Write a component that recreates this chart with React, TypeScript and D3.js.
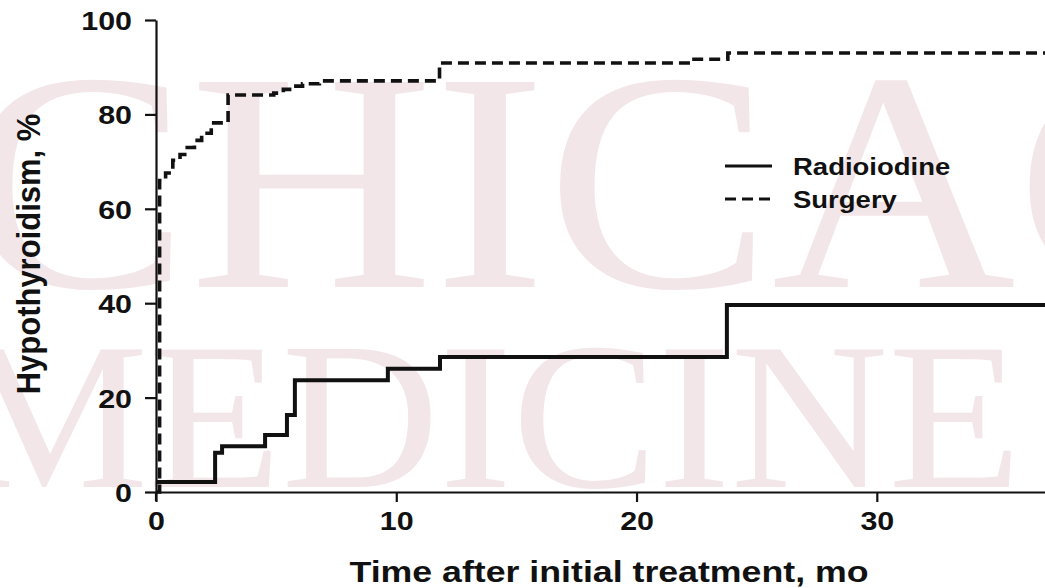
import { useEffect, useRef } from "react";
import * as d3 from "d3";

// Months after initial treatment / cumulative % hypothyroid
const radioTimes = [0, 2.46, 2.75, 4.54, 5.45, 5.78, 9.65, 11.82, 23.76, 37];
const radioPct = [2.1, 8.3, 9.7, 12.1, 16.3, 23.7, 26.1, 28.6, 39.6, 39.6];

const surgeryTimes = [0, 0.15, 0.4, 0.7, 1.0, 1.3, 1.6, 1.9, 2.3, 3.0, 4.9, 5.3, 5.7, 6.1, 6.8, 11.8, 22.3, 23.8, 37];
const surgeryPct = [0, 66, 67.6, 70.3, 71.5, 73, 74.5, 76, 78.2, 84.1, 84.5, 85.3, 86, 86.5, 87.1, 90.9, 91.7, 93.0, 93.0];

const xTicks = [0, 10, 20, 30];
const yTicks = [0, 20, 40, 60, 80, 100];

const legendLabels = ["Radioiodine", "Surgery"];

const W = 1045;
const H = 588;
const FONT = "'Liberation Sans', Arial, Helvetica, sans-serif";
const SX = 1.17; // the scan is a bit wider than tall, stretch text to match

export default function App() {
  const svgRef = useRef<SVGSVGElement>(null);

  useEffect(() => {
    if (!svgRef.current) return;
    const svg = d3.select(svgRef.current);
    svg.selectAll("*").remove();

    const x = d3.scaleLinear().domain([0, 37]).range([156, 1045]);
    const y = d3.scaleLinear().domain([0, 100]).range([492, 20]);

    // faint watermark behind the plot
    const wm = svg.append("g").attr("fill", "#f3e6e9").attr("font-family", "'Liberation Serif', 'Times New Roman', serif");
    wm.append("text").attr("transform", "translate(-36,287) scale(1.08,1)")
      .attr("font-size", 313).text("CHICAGO");
    wm.append("text").attr("transform", "translate(-46,487) scale(1.04,1)")
      .attr("font-size", 210).text("MEDICINE");

    // axes
    const xAxis = svg.append("g").attr("transform", `translate(0,${y(0)})`)
      .call(d3.axisBottom(x).tickValues(xTicks).tickSize(10).tickSizeOuter(0).tickFormat(d3.format("d")));
    xAxis.select(".domain").attr("stroke", "#111").attr("stroke-width", 2.2);
    xAxis.selectAll(".tick line").attr("stroke", "#111").attr("stroke-width", 2.2);
    xAxis.selectAll(".tick text")
      .attr("y", 0).attr("dy", 0)
      .attr("transform", `translate(0,38) scale(${SX},1)`)
      .attr("fill", "#111").attr("font-size", 26).attr("font-weight", 700).attr("font-family", FONT);

    const yAxis = svg.append("g").attr("transform", `translate(${x(0)},0)`)
      .call(d3.axisLeft(y).tickValues(yTicks).tickSize(11).tickSizeOuter(0).tickFormat(d3.format("d")));
    yAxis.select(".domain").attr("stroke", "#111").attr("stroke-width", 2.2);
    yAxis.selectAll(".tick line").attr("stroke", "#111").attr("stroke-width", 2.2);
    yAxis.selectAll(".tick text")
      .attr("x", 0).attr("dy", 0).attr("y", 0)
      .attr("transform", `translate(-24,9.5) scale(${SX},1)`)
      .attr("fill", "#111").attr("font-size", 26).attr("font-weight", 700).attr("font-family", FONT);

    // little stub of the y axis below the origin
    svg.append("line")
      .attr("x1", x(0)).attr("x2", x(0)).attr("y1", y(0)).attr("y2", y(0) + 9)
      .attr("stroke", "#111").attr("stroke-width", 2.2);

    // survival-style step curves
    const line = d3.line<[number, number]>()
      .x((d) => x(d[0])).y((d) => y(d[1]))
      .curve(d3.curveStepAfter);

    const radio = radioTimes.map((t, i) => [t, radioPct[i]] as [number, number]);
    const surg = surgeryTimes.map((t, i) => [t, surgeryPct[i]] as [number, number]);

    svg.append("path").datum(surg)
      .attr("d", line).attr("fill", "none")
      .attr("stroke", "#111").attr("stroke-width", 3.6)
      .attr("stroke-dasharray", "11,6");

    svg.append("path").datum(radio)
      .attr("d", line).attr("fill", "none")
      .attr("stroke", "#111").attr("stroke-width", 4);

    // legend
    const leg = svg.append("g");
    legendLabels.forEach((lab, i) => {
      const ly = 166 + i * 33;
      leg.append("line")
        .attr("x1", 725).attr("x2", 772).attr("y1", ly).attr("y2", ly)
        .attr("stroke", "#111").attr("stroke-width", 3)
        .attr("stroke-dasharray", i === 1 ? "11,6" : null);
      leg.append("text")
        .attr("transform", `translate(793,${ly + 9}) scale(${SX},1)`)
        .attr("fill", "#111").attr("font-size", 23.5).attr("font-weight", 700)
        .attr("font-family", FONT).text(lab);
    });

    // axis titles
    svg.append("text")
      .attr("transform", `translate(609,582) scale(1.19,1)`)
      .attr("text-anchor", "middle").attr("fill", "#111")
      .attr("font-size", 30).attr("font-weight", 700).attr("font-family", FONT)
      .text("Time after initial treatment, mo");
    svg.append("text")
      .attr("transform", `translate(40,254) rotate(-90) scale(1,1.1)`)
      .attr("text-anchor", "middle").attr("fill", "#111")
      .attr("font-size", 31).attr("font-weight", 700).attr("font-family", FONT)
      .text("Hypothyroidism, %");
  }, []);

  return (
    <svg
      ref={svgRef}
      width={W}
      height={H}
      style={{ position: "absolute", left: 0, top: 0, background: "#fff" }}
    />
  );
}
